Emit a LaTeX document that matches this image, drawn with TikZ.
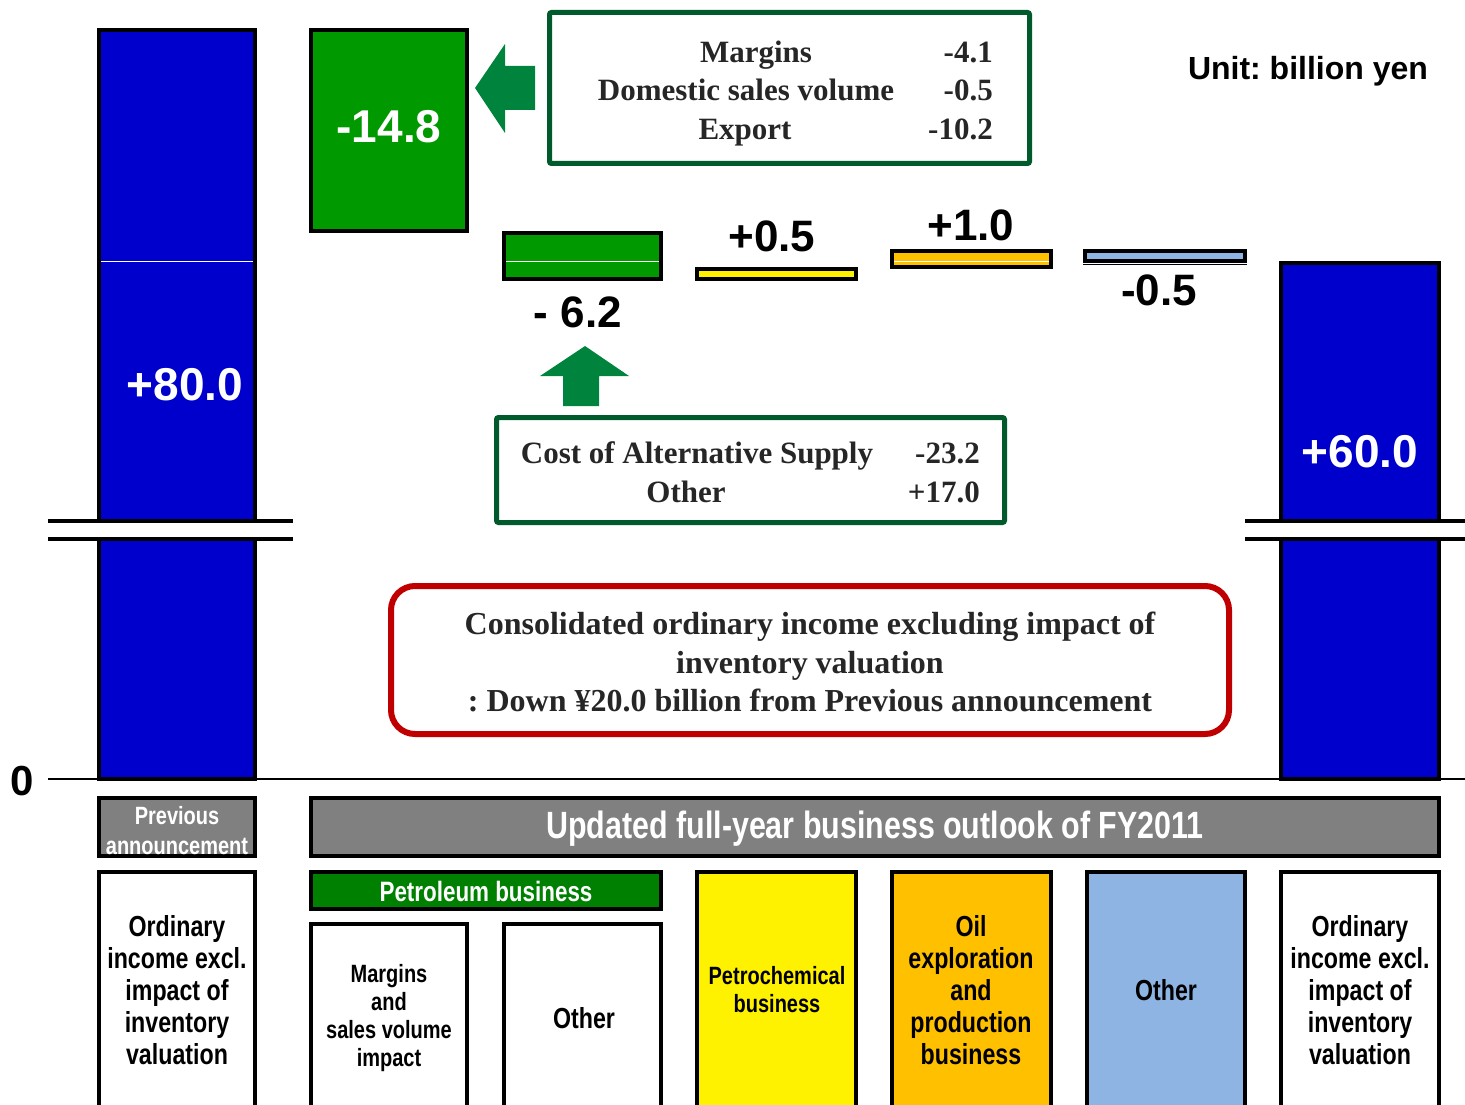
\documentclass[tikz,border=0pt]{standalone}
\usepackage{fontspec}
\setmainfont{Liberation Serif}
\setsansfont{Liberation Sans}
\newfontfamily\gothic[FakeStretch=0.8]{Liberation Sans}
\definecolor{barblue}{RGB}{0,0,204}
\definecolor{bargreen}{RGB}{0,153,0}
\definecolor{petgreen}{RGB}{0,128,0}
\definecolor{arrgreen}{RGB}{0,132,61}
\definecolor{boxgreen}{RGB}{0,90,43}
\definecolor{oilorange}{RGB}{255,192,0}
\definecolor{othblue}{RGB}{141,180,226}
\definecolor{noteRed}{RGB}{192,0,0}
\definecolor{hdgray}{RGB}{128,128,128}
\frenchspacing
\begin{document}
\begin{tikzpicture}[x=1pt,y=-1pt,
 bar/.style={line width=4pt},
 val/.style={font=\sffamily\bfseries\fontsize{44}{48}\selectfont,anchor=base},
 inval/.style={anchor=base,text=white,font=\sffamily\bfseries\fontsize{46}{50}\selectfont},
 note/.style={font=\bfseries\fontsize{31}{36}\selectfont,anchor=base,inner sep=0pt,text=black!85},
 notebox/.style={draw=boxgreen,line width=5pt,rounded corners=2pt,fill=white},
 cat/.style={font=\gothic\bfseries\fontsize{29}{32}\selectfont,align=center},
 hd/.style={bar,fill=hdgray}]
 \useasboundingbox (0,0) rectangle (1465,1105);
 % waterfall bars
 \filldraw[bar,fill=barblue] (99,30) rectangle (255,779);
 \filldraw[bar,fill=bargreen] (311,30) rectangle (467,231);
 \filldraw[bar,fill=bargreen] (504,233) rectangle (661,279);
 \filldraw[bar,fill=yellow] (697,269) rectangle (856,279);
 \filldraw[bar,fill=oilorange] (892,251) rectangle (1051,267);
 \filldraw[bar,fill=othblue] (1085,251) rectangle (1245,261);
 \filldraw[bar,fill=barblue] (1281,263) rectangle (1439,779);
 \foreach \a/\b in {101/253, 506/659, 894/1049}
  \draw[white,line width=1pt] (\a,261) -- (\b,261);
 \draw[line width=1.5pt] (1083,264.5) -- (1247,264.5);
 % axis breaks
 \fill[white] (40,523) rectangle (300,537);
 \fill[white] (1240,523) rectangle (1465,537);
 \foreach \y in {521,539} {
  \draw[bar] (48,\y) -- (293,\y);
  \draw[bar] (1245,\y) -- (1465,\y);
 }
 \draw[line width=2.5pt] (48,779) -- (1465,779);
 \node[val,font=\sffamily\bfseries\fontsize{42}{46}\selectfont] (zero) at (22,795) {0};
 % values
 \node[inval] (prevval) at (185,400) {+80.0};
 \node[inval] (margval) at (389,143) {-14.8};
 \node[val] (othval) at (578,327) {- 6.2};
 \node[val] (chemval) at (772,251) {+0.5};
 \node[val] (oilval) at (971,240) {+1.0};
 \node[val] (restval) at (1159,305) {-0.5};
 \node[inval] (newval) at (1360,467) {+60.0};
 \node[anchor=base,font=\sffamily\bfseries\fontsize{32}{36}\selectfont] (unit) at (1308,80) {Unit: billion yen};
 % block arrows
 \fill[arrgreen] (475,88) -- (505,44) -- (505,66) -- (535,66) -- (535,110) -- (505,110) -- (505,133) -- cycle;
 \fill[arrgreen] (585,346) -- (629,376) -- (599,376) -- (599,406) -- (563,406) -- (563,376) -- (540,376) -- cycle;
 % breakdown boxes
 \draw[notebox] (549.5,12.5) rectangle (1029.5,163.5);
 \foreach \t/\x/\v/\y [count=\i] in {Margins/756/-4.1/63, Domestic sales volume/746/-0.5/101, Export/745/-10.2/140} {
  \node[note] (mg\i) at (\x,\y) {\t};
  \node[note,anchor=base east] (mgv\i) at (993,\y) {\v};
 }
 \draw[notebox] (496.5,417.5) rectangle (1004.5,522.5);
 \foreach \t/\x/\v/\y [count=\i] in {Cost of Alternative Supply/697/-23.2/463, Other/686/+17.0/502} {
  \node[note] (cs\i) at (\x,\y) {\t};
  \node[note,anchor=base east] (csv\i) at (980,\y) {\v};
 }
 \draw[draw=noteRed,line width=6pt,rounded corners=24pt,fill=white] (391,586) rectangle (1229,734);
 \node[font=\bfseries\fontsize{32}{38.5}\selectfont,align=center,text=black!85] (summary) at (810,662)
  {Consolidated ordinary income excluding impact of\\inventory valuation\\: Down ¥20.0 billion from Previous announcement};
 % category headers
 \filldraw[hd] (99,798) rectangle (255,856);
 \node[cat,text=white,font=\gothic\bfseries\fontsize{25}{30}\selectfont] (prev) at (177,831) {Previous\\announcement};
 \filldraw[hd] (311,798) rectangle (1439,856);
 \node[cat,text=white,font=\gothic\bfseries\fontsize{38}{40}\selectfont] (upd) at (875,829) {Updated full-year business outlook of FY2011};
 \filldraw[bar,fill=petgreen] (311,872) rectangle (661,909);
 \node[cat,text=white,font=\gothic\bfseries\fontsize{28}{30}\selectfont] (petro) at (486,891) {Petroleum business};
 % category columns
 \foreach \a/\b/\c in {99/255/white, 697/856/yellow, 892/1051/oilorange, 1087/1245/othblue, 1281/1439/white}
  \filldraw[bar,fill=\c] (\a,872) rectangle (\b,1115);
 \foreach \a/\b in {311/467, 504/661}
  \filldraw[bar,fill=white] (\a,924) rectangle (\b,1115);
 \node[cat] (ordL) at (177,990) {Ordinary\\income excl.\\impact of\\inventory\\valuation};
 \node[cat,font=\gothic\bfseries\fontsize{25}{28}\selectfont] (marg) at (389,1018) {Margins\\and\\sales volume\\impact};
 \node[cat] (othP) at (584,1018) {Other};
 \node[cat,font=\gothic\bfseries\fontsize{25}{28}\selectfont] (chem) at (777,990) {Petrochemical\\business};
 \node[cat] (oil) at (971,990) {Oil\\exploration\\and\\production\\business};
 \node[cat] (othO) at (1166,990) {Other};
 \node[cat] (ordR) at (1360,990) {Ordinary\\income excl.\\impact of\\inventory\\valuation};
\end{tikzpicture}
\end{document}
